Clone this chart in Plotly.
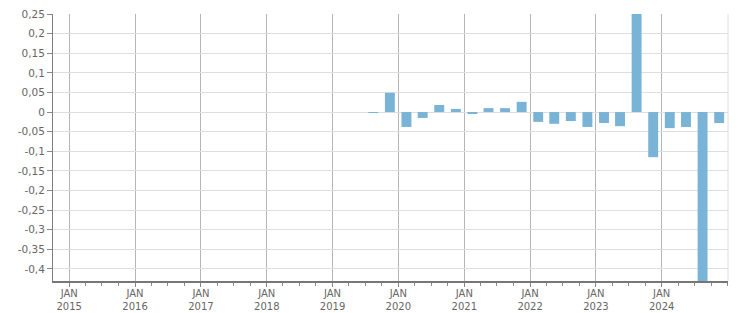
import plotly.graph_objects as go
import pandas as pd

# Quarter mid-points (bar positions) and values
quarters = ["2019-08-15", "2019-11-15", "2020-02-15", "2020-05-15", "2020-08-15", "2020-11-15",
            "2021-02-15", "2021-05-15", "2021-08-15", "2021-11-15", "2022-02-15", "2022-05-15",
            "2022-08-15", "2022-11-15", "2023-02-15", "2023-05-15", "2023-08-15", "2023-11-15",
            "2024-02-15", "2024-05-15", "2024-08-15", "2024-11-15"]
values = [-0.002, 0.049, -0.038, -0.015, 0.018, 0.008,
          -0.005, 0.010, 0.010, 0.026, -0.025, -0.030,
          -0.023, -0.038, -0.028, -0.036, 0.27, -0.115,
          -0.041, -0.038, -0.46, -0.028]

year_ticks = ["2015-01-01", "2016-01-01", "2017-01-01", "2018-01-01", "2019-01-01",
              "2020-01-01", "2021-01-01", "2022-01-01", "2023-01-01", "2024-01-01"]
year_labels = ["JAN<br>2015", "JAN<br>2016", "JAN<br>2017", "JAN<br>2018", "JAN<br>2019",
               "JAN<br>2020", "JAN<br>2021", "JAN<br>2022", "JAN<br>2023", "JAN<br>2024"]
y_ticks = [0.25, 0.2, 0.15, 0.1, 0.05, 0, -0.05, -0.1, -0.15, -0.2, -0.25, -0.3, -0.35, -0.4]
y_labels = ["0,25", "0,2", "0,15", "0,1", "0,05", "0", "-0,05", "-0,1", "-0,15", "-0,2",
            "-0,25", "-0,3", "-0,35", "-0,4"]

minor_ticks = [d.strftime("%Y-%m-%d") for d in pd.date_range("2014-10-01", "2025-01-01", freq="QS")]

bar_width_ms = 55 * 86400000

fig = go.Figure()
fig.add_trace(go.Bar(
    x=quarters, y=values,
    width=[bar_width_ms] * len(quarters),
    marker=dict(color="#79b3d5", line=dict(width=0)),
    hoverinfo="x+y",
))

yfont = dict(family="DejaVu Sans, Verdana, sans-serif", size=10.5, color="#666666")
xfont = dict(family="DejaVu Sans, Verdana, sans-serif", size=10, color="#666666")

fig.update_layout(
    width=751, height=313,
    margin=dict(l=53, r=23, t=14, b=32, autoexpand=False),
    paper_bgcolor="white", plot_bgcolor="white",
    showlegend=False,
    font=yfont,
    xaxis=dict(
        type="date",
        automargin=False,
        range=["2014-10-03", "2025-01-03"],
        tickmode="array", tickvals=year_ticks, ticktext=year_labels,
        showgrid=True, gridcolor="#b5b5b5", gridwidth=1,
        showline=True, linecolor="#777777", linewidth=2,
        ticks="outside", ticklen=4, tickcolor="#888888", tickwidth=1,
        ticklabelstandoff=-2,
        minor=dict(tickmode="array", tickvals=minor_ticks, ticks="outside",
                   ticklen=3, tickcolor="#888888", showgrid=False),
        tickfont=xfont,
        zeroline=False,
        fixedrange=True,
    ),
    yaxis=dict(
        automargin=False,
        range=[-0.4307, 0.25],
        tickmode="array", tickvals=y_ticks, ticktext=y_labels,
        showgrid=True, gridcolor="#dedede", gridwidth=1,
        showline=True, linecolor="#808080", linewidth=1,
        ticks="outside", ticklen=5, tickcolor="#888888", tickwidth=1,
        tickfont=yfont,
        zeroline=False,
        fixedrange=True,
    ),
    shapes=[dict(type="line", xref="paper", yref="paper", x0=1, x1=1, y0=0, y1=1,
                 line=dict(color="#dedede", width=1))],
)

fig.write_html("out.html")
